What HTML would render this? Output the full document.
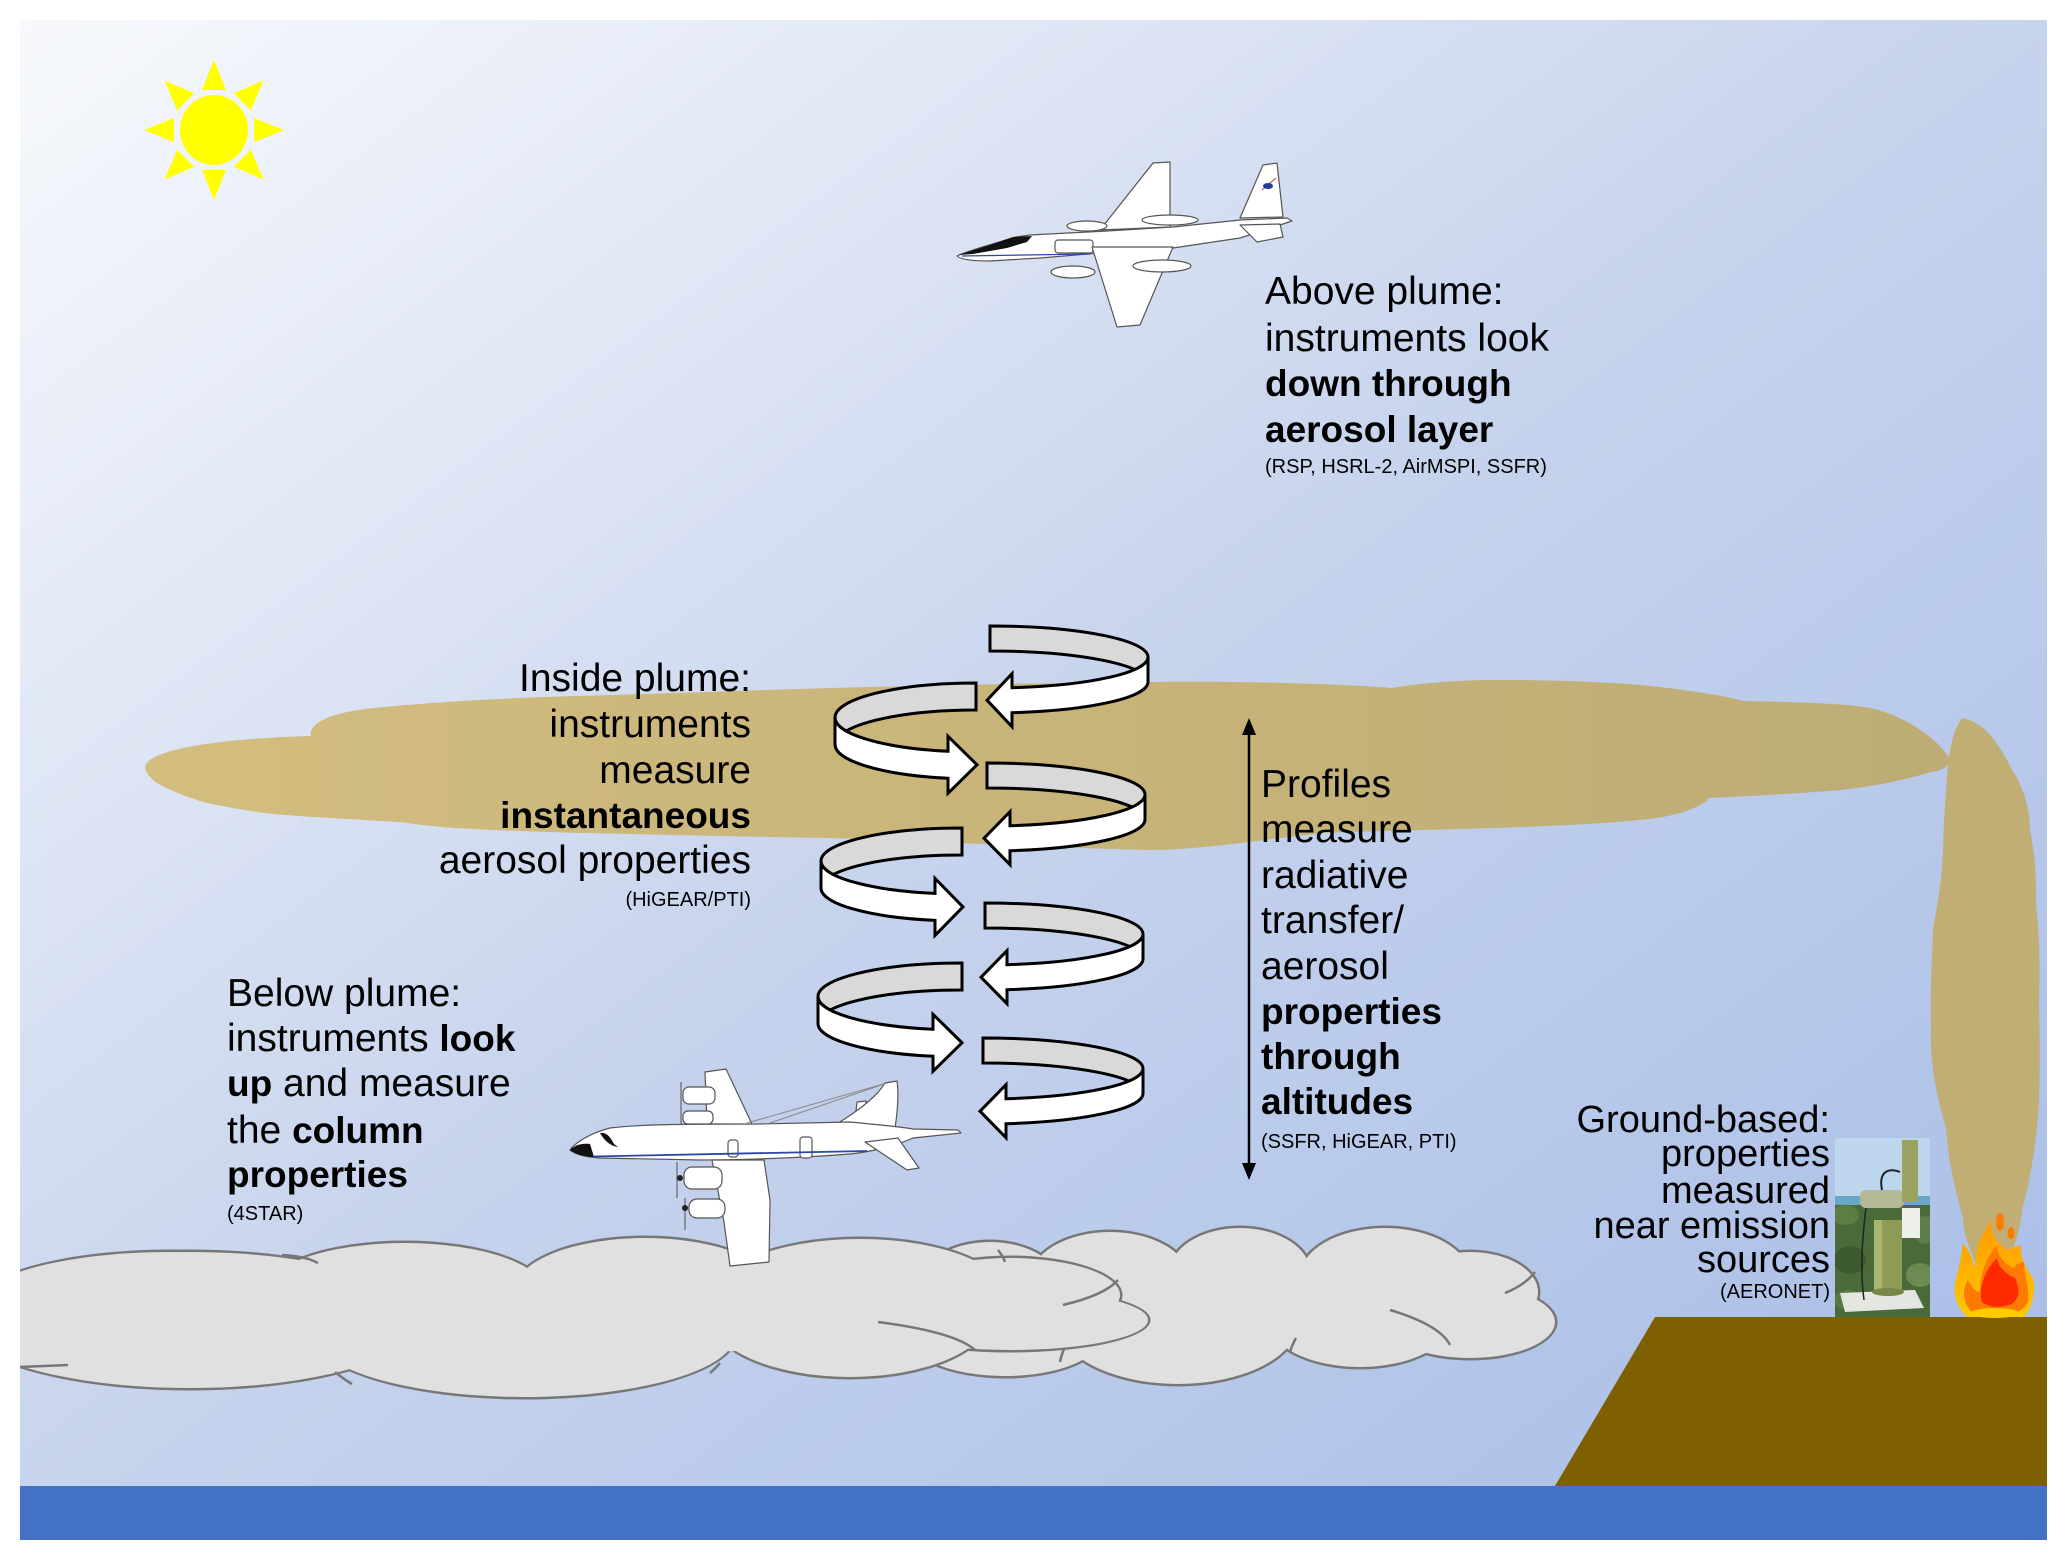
<!DOCTYPE html>
<html>
<head>
<meta charset="utf-8">
<style>
html,body{margin:0;padding:0;background:#fff;overflow:hidden;}
svg{display:block;}
text{font-family:"Liberation Sans", Arial, sans-serif; fill:#000;}
</style>
</head>
<body>
<svg width="2067" height="1560" viewBox="0 0 2067 1560" xmlns="http://www.w3.org/2000/svg">
<defs>
  <linearGradient id="sky" x1="0" y1="0" x2="1" y2="1">
    <stop offset="0" stop-color="#f7f9fc"/>
    <stop offset="0.25" stop-color="#e0e7f5"/>
    <stop offset="0.5" stop-color="#c6d3ed"/>
    <stop offset="1" stop-color="#a7bce6"/>
  </linearGradient>
  <linearGradient id="plume" x1="145" y1="0" x2="1951" y2="0" gradientUnits="userSpaceOnUse">
    <stop offset="0" stop-color="#d3bd7f"/>
    <stop offset="0.45" stop-color="#c9b57a"/>
    <stop offset="1" stop-color="#bdac75"/>
  </linearGradient>
  <linearGradient id="fireG" x1="0" y1="1220" x2="0" y2="1317" gradientUnits="userSpaceOnUse">
    <stop offset="0" stop-color="#ff9a00"/>
    <stop offset="1" stop-color="#ffc800"/>
  </linearGradient>
  <clipPath id="frame"><rect x="20" y="20" width="2027" height="1520"/></clipPath>
  <clipPath id="photo"><rect x="1835" y="1138" width="95" height="179"/></clipPath>
</defs>
<rect width="2067" height="1560" fill="#fff"/>
<g clip-path="url(#frame)">
  <rect x="20" y="20" width="2027" height="1520" fill="url(#sky)"/>

  <!-- Sun -->
  <g fill="#ffff00">
    <ellipse cx="214" cy="130" rx="34" ry="35"/>
    <polygon points="254,118 254,142 284,130"/>
    <polygon points="174,118 174,142 144,130"/>
    <polygon points="202,90 226,90 214,60"/>
    <polygon points="202,170 226,170 214,200"/>
    <polygon points="233.8,166.8 250.8,149.8 263.5,179.5"/>
    <polygon points="194.2,166.8 177.2,149.8 164.5,179.5"/>
    <polygon points="177.2,110.2 194.2,93.2 164.5,80.5"/>
    <polygon points="250.8,110.2 233.8,93.2 263.5,80.5"/>
  </g>

  <!-- Plume -->
  <path fill="url(#plume)" d="M145,767 C148,748 230,738 311,736 C308,724 330,712 375,708 C420,703 500,698 576,696 C650,694 760,690 830,688 C950,685 1050,683 1150,682 C1250,681 1340,684 1392,688 C1420,683 1460,680 1495,680 C1580,680 1640,684 1668,688 C1700,692 1730,697 1743,701 C1800,702 1850,704 1870,708 C1900,714 1935,735 1951,760 C1948,768 1940,771 1927,773 C1900,782 1860,788 1841,790 C1780,795 1730,797 1708,798 C1708,800 1706,802 1703,803 C1690,812 1665,818 1639,820 C1600,824 1550,826 1495,828 C1430,830 1370,831 1323,833 C1260,840 1200,850 1150,850 C1050,848 950,842 830,838 C700,836 600,833 576,833 C520,831 460,829 442,827 C420,825 410,823 398,822 C370,820 300,817 264,813 C230,808 205,803 197,800 C175,793 160,785 157,783 C150,778 145,772 145,767 Z"/>

  <!-- Smoke column -->
  <path fill="#c0ae75" d="M1962,718 C1985,722 2000,745 2012,770 C2025,790 2030,810 2030,830 C2036,860 2036,880 2036,905 C2040,940 2040,970 2039,1004 C2040,1040 2040,1070 2039,1103 C2036,1150 2028,1190 2022,1210 C2020,1230 2015,1250 2005,1262 L1975,1262 C1968,1245 1963,1230 1963,1218 C1955,1190 1948,1160 1946,1128 C1935,1090 1930,1060 1931,1029 C1930,990 1932,960 1933,929 C1938,900 1942,880 1943,850 C1944,820 1945,800 1946,793 C1948,760 1950,735 1962,718 Z"/>

  <!-- Cloud B (behind) -->
  <g fill="#777">
    <ellipse cx="990" cy="1285" rx="72.5" ry="45.5"/>
    <ellipse cx="1110" cy="1280" rx="82.5" ry="50.5"/>
    <ellipse cx="1240" cy="1272" rx="72.5" ry="46.5"/>
    <ellipse cx="1385" cy="1277" rx="87.5" ry="51.5"/>
    <ellipse cx="1470" cy="1292" rx="70.5" ry="42.5"/>
    <ellipse cx="1470" cy="1322" rx="87.5" ry="38.5"/>
    <ellipse cx="1360" cy="1320" rx="94.5" ry="49.5"/>
    <ellipse cx="1178" cy="1322" rx="122.5" ry="64.5"/>
    <ellipse cx="1005" cy="1338" rx="97.5" ry="40.5"/>
  </g>
  <g fill="#e0e0e0">
    <ellipse cx="990" cy="1285" rx="70" ry="43"/>
    <ellipse cx="1110" cy="1280" rx="80" ry="48"/>
    <ellipse cx="1240" cy="1272" rx="70" ry="44"/>
    <ellipse cx="1385" cy="1277" rx="85" ry="49"/>
    <ellipse cx="1470" cy="1292" rx="68" ry="40"/>
    <ellipse cx="1470" cy="1322" rx="85" ry="36"/>
    <ellipse cx="1360" cy="1320" rx="92" ry="47"/>
    <ellipse cx="1178" cy="1322" rx="120" ry="62"/>
    <ellipse cx="1005" cy="1338" rx="95" ry="38"/>
    <ellipse cx="1250" cy="1305" rx="220" ry="38"/>
  </g>
  <g fill="none" stroke="#777" stroke-width="2.5">
    <path d="M1390,1310 Q1440,1325 1450,1345"/>
    <path d="M1505,1293 Q1525,1285 1535,1272"/>
    <path d="M1290,1352 Q1292,1345 1296,1338"/>
    <path d="M1060,1362 Q1062,1352 1066,1345"/>
  </g>

  <!-- Cloud A (front) -->
  <g fill="#777">
    <ellipse cx="170" cy="1310" rx="202.5" ry="60.5"/>
    <ellipse cx="405" cy="1292" rx="142.5" ry="51.5"/>
    <ellipse cx="645" cy="1290" rx="132.5" ry="54.5"/>
    <ellipse cx="860" cy="1300" rx="152.5" ry="63.5"/>
    <ellipse cx="1010" cy="1295" rx="112.5" ry="39.5"/>
    <ellipse cx="1010" cy="1320" rx="140.5" ry="32.5"/>
    <ellipse cx="190" cy="1320" rx="232.5" ry="70.5"/>
    <ellipse cx="525" cy="1335" rx="212.5" ry="64.5"/>
    <ellipse cx="850" cy="1315" rx="142.5" ry="64.5"/>
  </g>
  <g fill="#e0e0e0">
    <ellipse cx="170" cy="1310" rx="200" ry="58"/>
    <ellipse cx="405" cy="1292" rx="140" ry="49"/>
    <ellipse cx="645" cy="1290" rx="130" ry="52"/>
    <ellipse cx="860" cy="1300" rx="150" ry="61"/>
    <ellipse cx="1010" cy="1295" rx="110" ry="37"/>
    <ellipse cx="1010" cy="1320" rx="138" ry="30"/>
    <ellipse cx="190" cy="1320" rx="230" ry="68"/>
    <ellipse cx="525" cy="1335" rx="210" ry="62"/>
    <ellipse cx="850" cy="1315" rx="140" ry="62"/>
    <ellipse cx="560" cy="1318" rx="440" ry="36"/>
  </g>
  <g fill="none" stroke="#777" stroke-width="2.5">
    <path d="M878,1322 Q955,1332 975,1350"/>
    <path d="M1063,1305 Q1105,1295 1118,1280"/>
    <path d="M282,1255 Q305,1256 318,1263"/>
    <path d="M20,1367 L68,1365"/>
    <path d="M335,1372 Q345,1380 352,1384"/>
    <path d="M710,1373 Q716,1368 720,1363"/>
    <path d="M1005,1262 Q1003,1256 998,1250"/>
  </g>

  <!-- Ground and ocean -->
  <polygon points="1655,1317 2047,1317 2047,1486 1555,1486" fill="#7f6000"/>
  <rect x="20" y="1486" width="2027" height="54" fill="#4472c4"/>

  <!-- AERONET photo -->
  <g clip-path="url(#photo)">
    <rect x="1835" y="1138" width="95" height="179" fill="#bcd6ee"/>
    <rect x="1835" y="1196" width="95" height="12" fill="#6aa6c6"/>
    <rect x="1835" y="1205" width="95" height="112" fill="#4b6a3a"/>
    <ellipse cx="1845" cy="1215" rx="14" ry="10" fill="#5d7d45"/>
    <ellipse cx="1925" cy="1230" rx="12" ry="14" fill="#5f7e48"/>
    <ellipse cx="1850" cy="1260" rx="16" ry="14" fill="#3e5a31"/>
    <ellipse cx="1920" cy="1275" rx="14" ry="12" fill="#6c8a52"/>
    <ellipse cx="1848" cy="1300" rx="14" ry="10" fill="#5a7842"/>
    <polygon points="1840,1293 1915,1290 1924,1308 1845,1312" fill="#e4e6e2"/>
    <rect x="1874" y="1220" width="28" height="72" fill="#8e9b56"/>
    <rect x="1874" y="1220" width="8" height="72" fill="#a9b46c"/>
    <ellipse cx="1888" cy="1292" rx="16" ry="4" fill="#7a8548"/>
    <rect x="1860" y="1190" width="44" height="18" rx="6" fill="#b4b894"/>
    <rect x="1902" y="1140" width="16" height="62" fill="#9aa45e"/>
    <rect x="1902" y="1208" width="18" height="30" fill="#eef0ec"/>
    <path d="M1882,1190 C1878,1170 1890,1168 1900,1172" fill="none" stroke="#222" stroke-width="2"/>
    <path d="M1866,1208 C1862,1240 1860,1270 1864,1300" fill="none" stroke="#222" stroke-width="1.5"/>
  </g>

  <!-- Fire -->
  <path fill="url(#fireG)" d="M1968,1317 C1955,1308 1952,1290 1957,1275 C1960,1262 1963,1250 1962,1243 C1972,1252 1972,1262 1975,1268 C1975,1250 1982,1232 1992,1220 C1990,1235 1998,1245 2008,1250 C2012,1248 2018,1245 2021,1246 C2020,1258 2026,1268 2033,1278 C2036,1292 2032,1308 2024,1317 Z"/>
  <path fill="#ff7a00" d="M1972,1312 C1962,1302 1962,1290 1968,1280 C1972,1288 1976,1292 1980,1292 C1980,1272 1988,1255 1997,1245 C1998,1258 2006,1265 2014,1268 C2018,1262 2022,1262 2024,1262 C2024,1275 2030,1290 2028,1302 C2024,1308 2020,1312 2016,1312 Z"/>
  <path fill="#ff2a00" d="M1982,1302 C1978,1288 1985,1270 1997,1258 C1998,1268 2008,1275 2015,1278 C2020,1288 2020,1298 2012,1304 C2000,1308 1990,1308 1982,1302 Z"/>
  <ellipse cx="1995" cy="1313" rx="24" ry="5" fill="#ffcc00"/>
  <ellipse cx="2000" cy="1222" rx="4" ry="9" fill="#ff7a00"/>
  <ellipse cx="2011" cy="1233" rx="3.5" ry="6" fill="#ff7a00"/>

  <!-- Spiral arrows -->
  <g stroke="#000" stroke-width="3" stroke-linejoin="miter">
    <path fill="#d9d9d9" d="M990,626 A158,31 0 0 1 1148,657 L1148,682 A158,31 0 0 0 990,651 Z"/>
    <path fill="#fff" d="M1148,657 A158,31 0 0 1 1012,687.7 L1012,673.7 L987,700.2 L1012,726.7 L1012,712.7 A158,31 0 0 0 1148,682 Z"/>
    <path fill="#d9d9d9" d="M976,683 A141,34.5 0 0 0 835,717.5 L835,744.5 A141,34.5 0 0 1 976,710 Z"/>
    <path fill="#fff" d="M835,717.5 A141,34.5 0 0 0 948,751.3 L948,736.3 L977,764.8 L948,793.3 L948,778.3 A141,34.5 0 0 1 835,744.5 Z"/>
    <path fill="#d9d9d9" d="M987,763 A158,31.5 0 0 1 1145,794.5 L1145,819.5 A158,31.5 0 0 0 987,788 Z"/>
    <path fill="#fff" d="M1145,794.5 A158,31.5 0 0 1 1010,825.7 L1010,811.7 L984,838.2 L1010,864.7 L1010,850.7 A158,31.5 0 0 0 1145,819.5 Z"/>
    <path fill="#d9d9d9" d="M962,828 A141,33 0 0 0 821,861 L821,888 A141,33 0 0 1 962,855 Z"/>
    <path fill="#fff" d="M821,861 A141,33 0 0 0 935,893.4 L935,878.4 L963,906.9 L935,935.4 L935,920.4 A141,33 0 0 1 821,888 Z"/>
    <path fill="#d9d9d9" d="M985,903 A158,31 0 0 1 1143,934 L1143,959 A158,31 0 0 0 985,928 Z"/>
    <path fill="#fff" d="M1143,934 A158,31 0 0 1 1007,964.7 L1007,950.7 L981,977.2 L1007,1003.7 L1007,989.7 A158,31 0 0 0 1143,959 Z"/>
    <path fill="#d9d9d9" d="M962,963 A144,33.5 0 0 0 818,996.5 L818,1023.5 A144,33.5 0 0 1 962,990 Z"/>
    <path fill="#fff" d="M818,996.5 A144,33.5 0 0 0 933,1029.3 L933,1014.3 L962,1042.8 L933,1071.3 L933,1056.3 A144,33.5 0 0 1 818,1023.5 Z"/>
    <path fill="#d9d9d9" d="M983,1038 A160,30.5 0 0 1 1143,1068.5 L1143,1093.5 A160,30.5 0 0 0 983,1063 Z"/>
    <path fill="#fff" d="M1143,1068.5 A160,30.5 0 0 1 1006,1098.7 L1006,1084.7 L980,1111.2 L1006,1137.7 L1006,1123.7 A160,30.5 0 0 0 1143,1093.5 Z"/>
  </g>

  <!-- Vertical double arrow -->
  <line x1="1249" y1="732" x2="1249" y2="1166" stroke="#000" stroke-width="2.5"/>
  <polygon points="1249,718 1242,735 1256,735" fill="#000"/>
  <polygon points="1249,1180 1242,1163 1256,1163" fill="#000"/>

  <!-- ER-2 plane (top) -->
  <g stroke="#555" stroke-width="1.2" fill="#fff" stroke-linejoin="round">
    <polygon points="1100,230 1170,227 1170,162 1153,163"/>
    <ellipse cx="1087" cy="226" rx="20" ry="5"/>
    <ellipse cx="1170" cy="220" rx="28" ry="5"/>
    <polygon points="1240,218 1263,165 1277,163 1283,217"/>
    <path d="M957,256 C970,250 990,245 1016,237 L1030,235 L1107,231 L1173,227 L1240,220 L1287,218 L1292,221 L1280,225 L1240,238 L1173,248 L1100,253 L1040,258 L990,261 C970,261 960,259 957,256 Z"/>
    <rect x="1055" y="240" width="38" height="13" rx="3"/>
    <polygon points="1240,225 1280,224 1283,237 1257,242"/>
    <ellipse cx="1073" cy="272" rx="22" ry="6"/>
    <polygon points="1092,247 1173,247 1140,325 1117,327"/>
    <ellipse cx="1162" cy="266" rx="29" ry="6"/>
  </g>
  <polygon points="958,255 990,245 1013,237 1032,236 1027,242 1007,248 973,254" fill="#111"/>
  <line x1="962" y1="256" x2="1090" y2="254" stroke="#2a46a8" stroke-width="1.2"/>
  <path d="M1262,190 L1276,178" stroke="#c0392b" stroke-width="1"/>
  <ellipse cx="1268" cy="186" rx="5" ry="3" fill="#1f3c9c"/>

  <!-- P-3 plane (bottom) -->
  <g stroke="#555" stroke-width="1.2" fill="#fff" stroke-linejoin="round">
    <polygon points="707,1124 705,1072 726,1069 752,1124"/>
    <rect x="683" y="1087" width="32" height="17" rx="6"/>
    <rect x="683" y="1111" width="30" height="13" rx="5"/>
    <path d="M855,1120 L857,1102 L866,1101 L866,1120 Z"/>
    <path d="M835,1125 C860,1110 878,1095 885,1083 L897,1081 C899,1095 897,1115 895,1128 Z"/>
    <path d="M570,1150 C575,1143 590,1133 610,1128 C640,1124 700,1124 760,1124 L850,1122 C870,1124 895,1126 913,1129 L958,1130 L961,1133 L913,1138 C895,1146 870,1152 850,1154 C800,1158 740,1160 700,1160 L600,1158 C585,1157 575,1154 570,1150 Z"/>
    <polygon points="865,1142 898,1138 919,1168 907,1170"/>
    <path d="M712,1160 L764,1160 L770,1200 L769,1262 L730,1266 L724,1222 Z"/>
    <rect x="684" y="1167" width="38" height="22" rx="8"/>
    <rect x="689" y="1199" width="36" height="19" rx="8"/>
    <rect x="728" y="1140" width="10" height="17" rx="3"/>
    <rect x="800" y="1137" width="12" height="21" rx="3"/>
  </g>
  <g stroke="#666" stroke-width="1.2">
    <line x1="681" y1="1082" x2="681" y2="1125"/>
    <line x1="677" y1="1162" x2="677" y2="1198"/>
    <line x1="685" y1="1198" x2="685" y2="1230"/>
    <line x1="747" y1="1123" x2="887" y2="1083" stroke="#888" stroke-width="1"/>
    <line x1="770" y1="1123" x2="887" y2="1083" stroke="#888" stroke-width="1"/>
  </g>
  <path d="M570,1150 C574,1146 580,1143 590,1144 L594,1157 C584,1157 575,1154 570,1150 Z" fill="#111"/>
  <path d="M600,1133 C606,1132 610,1136 614,1144 L618,1147 C610,1146 604,1140 600,1133 Z" fill="#111"/>
  <line x1="593" y1="1156.5" x2="867" y2="1151" stroke="#2a46a8" stroke-width="1.8"/>
  <circle cx="680" cy="1178" r="3" fill="#222"/>
  <circle cx="685" cy="1208" r="3" fill="#222"/>

  <!-- Text: Above plume -->
  <text x="1265" y="304" font-size="39">Above plume:</text>
  <text x="1265" y="351" font-size="39">instruments look</text>
  <text x="1265" y="396" font-size="37" font-weight="bold">down through</text>
  <text x="1265" y="442" font-size="37" font-weight="bold">aerosol layer</text>
  <text x="1265" y="473" font-size="20">(RSP, HSRL-2, AirMSPI, SSFR)</text>

  <!-- Text: Inside plume -->
  <g text-anchor="end">
    <text x="751" y="691" font-size="39">Inside plume:</text>
    <text x="751" y="737" font-size="39">instruments</text>
    <text x="751" y="783" font-size="39">measure</text>
    <text x="751" y="828" font-size="37" font-weight="bold">instantaneous</text>
    <text x="751" y="873" font-size="39">aerosol properties</text>
    <text x="751" y="906" font-size="20">(HiGEAR/PTI)</text>
  </g>

  <!-- Text: Below plume -->
  <text x="227" y="1006" font-size="39">Below plume:</text>
  <text x="227" y="1051" font-size="39">instruments <tspan font-weight="bold" font-size="37">look</tspan></text>
  <text x="227" y="1096" font-size="39"><tspan font-weight="bold" font-size="37">up</tspan> and measure</text>
  <text x="227" y="1143" font-size="39">the <tspan font-weight="bold" font-size="37">column</tspan></text>
  <text x="227" y="1187" font-size="37" font-weight="bold">properties</text>
  <text x="227" y="1220" font-size="20">(4STAR)</text>

  <!-- Text: Profiles -->
  <text x="1261" y="797" font-size="39">Profiles</text>
  <text x="1261" y="842" font-size="39">measure</text>
  <text x="1261" y="888" font-size="39">radiative</text>
  <text x="1261" y="933" font-size="39">transfer/</text>
  <text x="1261" y="979" font-size="39">aerosol</text>
  <text x="1261" y="1024" font-size="37" font-weight="bold">properties</text>
  <text x="1261" y="1069" font-size="37" font-weight="bold">through</text>
  <text x="1261" y="1114" font-size="37" font-weight="bold">altitudes</text>
  <text x="1261" y="1148" font-size="20">(SSFR, HiGEAR, PTI)</text>

  <!-- Text: Ground-based -->
  <g text-anchor="end">
    <text x="1830" y="1132" font-size="38">Ground-based:</text>
    <text x="1830" y="1166" font-size="38">properties</text>
    <text x="1830" y="1203" font-size="38">measured</text>
    <text x="1830" y="1238" font-size="38">near emission</text>
    <text x="1830" y="1272" font-size="38">sources</text>
    <text x="1830" y="1298" font-size="20">(AERONET)</text>
  </g>
</g>
</svg>
</body>
</html>
